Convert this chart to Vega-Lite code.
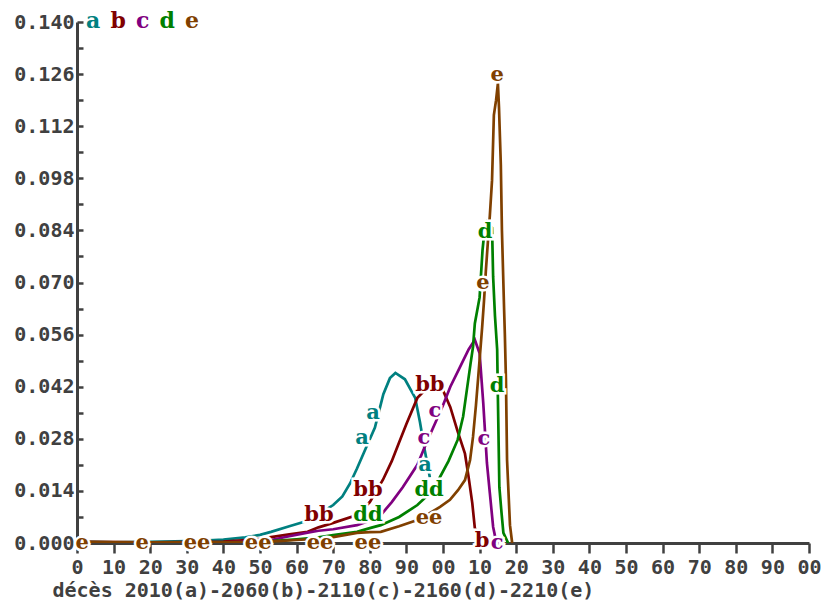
{
  "$schema": "https://vega.github.io/schema/vega-lite/v6.json",
  "width": 732,
  "height": 521,
  "autosize": {"type": "none"},
  "padding": {"left": 77, "top": 22, "right": 13, "bottom": 59},
  "background": "white",
  "config": {"view": {"stroke": null}},
  "datasets": {
    "curves": [
      {"s":"a","age":0,"v":0.0004},{"s":"a","age":10,"v":0.0002},{"s":"a","age":20,"v":0.0003},{"s":"a","age":30,"v":0.0005},{"s":"a","age":36,"v":0.0007},{"s":"a","age":40,"v":0.0009},{"s":"a","age":46,"v":0.0015},{"s":"a","age":50,"v":0.0022},{"s":"a","age":53,"v":0.003},{"s":"a","age":58,"v":0.0045},{"s":"a","age":63,"v":0.006},{"s":"a","age":66,"v":0.0077},{"s":"a","age":70,"v":0.0102},{"s":"a","age":72.5,"v":0.0125},{"s":"a","age":74.6,"v":0.016},{"s":"a","age":76.5,"v":0.02},{"s":"a","age":78.7,"v":0.025},{"s":"a","age":81.4,"v":0.031},{"s":"a","age":83.7,"v":0.04},{"s":"a","age":85.5,"v":0.0443},{"s":"a","age":87,"v":0.0457},{"s":"a","age":89.6,"v":0.044},{"s":"a","age":92.4,"v":0.039},{"s":"a","age":93.7,"v":0.0325},{"s":"a","age":95,"v":0.025},{"s":"a","age":96.4,"v":0.0177},
      {"s":"b","age":0,"v":0.0003},{"s":"b","age":20,"v":0.0002},{"s":"b","age":40,"v":0.0004},{"s":"b","age":46,"v":0.0008},{"s":"b","age":50,"v":0.0011},{"s":"b","age":53,"v":0.0016},{"s":"b","age":58,"v":0.0023},{"s":"b","age":63,"v":0.003},{"s":"b","age":66,"v":0.0042},{"s":"b","age":70,"v":0.0054},{"s":"b","age":76.5,"v":0.0075},{"s":"b","age":80,"v":0.011},{"s":"b","age":83.6,"v":0.017},{"s":"b","age":86,"v":0.022},{"s":"b","age":88,"v":0.027},{"s":"b","age":90,"v":0.032},{"s":"b","age":93,"v":0.039},{"s":"b","age":95.5,"v":0.0415},{"s":"b","age":98,"v":0.0425},{"s":"b","age":100,"v":0.041},{"s":"b","age":102,"v":0.0365},{"s":"b","age":104,"v":0.03},{"s":"b","age":106,"v":0.024},{"s":"b","age":107,"v":0.0177},{"s":"b","age":108,"v":0.0107},{"s":"b","age":108.7,"v":0.004},{"s":"b","age":110,"v":0.0008},{"s":"b","age":112,"v":0},
      {"s":"c","age":0,"v":0.0002},{"s":"c","age":40,"v":0.0002},{"s":"c","age":50,"v":0.0004},{"s":"c","age":53,"v":0.0008},{"s":"c","age":58,"v":0.0018},{"s":"c","age":63,"v":0.0028},{"s":"c","age":66,"v":0.0033},{"s":"c","age":70,"v":0.0037},{"s":"c","age":76.5,"v":0.0048},{"s":"c","age":80,"v":0.006},{"s":"c","age":83,"v":0.0075},{"s":"c","age":86,"v":0.011},{"s":"c","age":89,"v":0.015},{"s":"c","age":93,"v":0.021},{"s":"c","age":95.5,"v":0.027},{"s":"c","age":98,"v":0.0325},{"s":"c","age":100,"v":0.037},{"s":"c","age":102,"v":0.042},{"s":"c","age":104.5,"v":0.047},{"s":"c","age":107,"v":0.052},{"s":"c","age":108.7,"v":0.0546},{"s":"c","age":110,"v":0.051},{"s":"c","age":111,"v":0.0376},{"s":"c","age":112,"v":0.0215},{"s":"c","age":112.8,"v":0.0134},{"s":"c","age":113.7,"v":0.0043},{"s":"c","age":114.5,"v":0.0005},{"s":"c","age":116,"v":0},
      {"s":"d","age":0,"v":0.0002},{"s":"d","age":50,"v":0.0002},{"s":"d","age":53,"v":0.0005},{"s":"d","age":60,"v":0.001},{"s":"d","age":66,"v":0.0015},{"s":"d","age":70,"v":0.0021},{"s":"d","age":76.5,"v":0.003},{"s":"d","age":80,"v":0.004},{"s":"d","age":83,"v":0.0048},{"s":"d","age":88,"v":0.007},{"s":"d","age":93,"v":0.0102},{"s":"d","age":96,"v":0.013},{"s":"d","age":99,"v":0.0174},{"s":"d","age":101.5,"v":0.022},{"s":"d","age":104,"v":0.0277},{"s":"d","age":105.5,"v":0.034},{"s":"d","age":106.5,"v":0.041},{"s":"d","age":107.5,"v":0.048},{"s":"d","age":108.2,"v":0.0527},{"s":"d","age":108.7,"v":0.059},{"s":"d","age":110,"v":0.066},{"s":"d","age":110.8,"v":0.0787},{"s":"d","age":111.5,"v":0.0855},{"s":"d","age":112,"v":0.0863},{"s":"d","age":113.4,"v":0.0847},{"s":"d","age":113.7,"v":0.0715},{"s":"d","age":114.2,"v":0.061},{"s":"d","age":114.8,"v":0.052},{"s":"d","age":115,"v":0.039},{"s":"d","age":115.4,"v":0.015},{"s":"d","age":116,"v":0.008},{"s":"d","age":116.5,"v":0.0027},{"s":"d","age":117.8,"v":0},
      {"s":"e","age":0,"v":0.0003},{"s":"e","age":20,"v":0.0002},{"s":"e","age":40,"v":0.0002},{"s":"e","age":50,"v":0.0003},{"s":"e","age":55,"v":0.0005},{"s":"e","age":60,"v":0.0008},{"s":"e","age":66,"v":0.0012},{"s":"e","age":70,"v":0.0016},{"s":"e","age":76.5,"v":0.0027},{"s":"e","age":80,"v":0.0029},{"s":"e","age":83,"v":0.003},{"s":"e","age":88,"v":0.0045},{"s":"e","age":93,"v":0.0062},{"s":"e","age":96,"v":0.0078},{"s":"e","age":99.2,"v":0.0097},{"s":"e","age":101.9,"v":0.0116},{"s":"e","age":104.1,"v":0.0142},{"s":"e","age":106,"v":0.0169},{"s":"e","age":107.4,"v":0.0223},{"s":"e","age":108.2,"v":0.0285},{"s":"e","age":109,"v":0.037},{"s":"e","age":109.6,"v":0.0443},{"s":"e","age":110.1,"v":0.0505},{"s":"e","age":110.7,"v":0.058},{"s":"e","age":111.2,"v":0.065},{"s":"e","age":111.7,"v":0.073},{"s":"e","age":112.3,"v":0.0814},{"s":"e","age":112.8,"v":0.088},{"s":"e","age":113.4,"v":0.0975},{"s":"e","age":113.7,"v":0.108},{"s":"e","age":113.9,"v":0.115},{"s":"e","age":114.5,"v":0.119},{"s":"e","age":115,"v":0.1235},{"s":"e","age":115.3,"v":0.117},{"s":"e","age":115.8,"v":0.1016},{"s":"e","age":116.1,"v":0.084},{"s":"e","age":116.7,"v":0.0626},{"s":"e","age":116.9,"v":0.056},{"s":"e","age":117.2,"v":0.0438},{"s":"e","age":117.5,"v":0.0223},{"s":"e","age":118.3,"v":0.0048},{"s":"e","age":118.9,"v":0}
    ],
    "labels": [
      {"s":"a","age":77.9,"v":0.0282,"t":"a"},{"s":"a","age":80.9,"v":0.0349,"t":"a"},{"s":"a","age":95.1,"v":0.021,"t":"a"},
      {"s":"b","age":66.1,"v":0.0075,"t":"bb"},{"s":"b","age":79.5,"v":0.0142,"t":"bb"},{"s":"b","age":96.4,"v":0.0425,"t":"bb"},{"s":"b","age":110.7,"v":0.0005,"t":"b"},
      {"s":"c","age":97.8,"v":0.0355,"t":"c"},{"s":"c","age":94.8,"v":0.0282,"t":"c"},{"s":"c","age":111.2,"v":0.0279,"t":"c"},{"s":"c","age":114.8,"v":0.0,"t":"c"},
      {"s":"d","age":79.5,"v":0.0075,"t":"dd"},{"s":"d","age":96.2,"v":0.0142,"t":"dd"},{"s":"d","age":111.5,"v":0.0836,"t":"d"},{"s":"d","age":114.8,"v":0.0422,"t":"d"},
      {"s":"e","age":1.4,"v":0,"t":"e"},{"s":"e","age":17.8,"v":0,"t":"e"},{"s":"e","age":32.8,"v":0,"t":"ee"},{"s":"e","age":49.5,"v":0,"t":"ee"},{"s":"e","age":66.4,"v":0,"t":"ee"},{"s":"e","age":79.5,"v":0,"t":"ee"},{"s":"e","age":96.2,"v":0.0067,"t":"ee"},{"s":"e","age":110.9,"v":0.0699,"t":"e"},{"s":"e","age":114.8,"v":0.1258,"t":"e"}
    ]
  },
  "encoding": {
    "x": {
      "field": "age", "type": "quantitative",
      "scale": {"domain": [0, 200], "nice": false, "zero": false},
      "axis": {
        "values": [0,10,20,30,40,50,60,70,80,90,100,110,120,130,140,150,160,170,180,190,200],
        "labelExpr": "datum.value == 0 ? '0' : format(datum.value % 100, '02d')",
        "grid": false,
        "domainColor": "#404040", "domainWidth": 3,
        "tickColor": "#404040", "tickWidth": 2.5, "tickSize": 10,
        "labelFont": "DejaVu Sans Mono", "labelFontWeight": "bold", "labelFontSize": 20, "labelColor": "#404040",
        "labelPadding": 4, "labelOverlap": false, "labelFlush": false,
        "title": "décès 2010(a)-2060(b)-2110(c)-2160(d)-2210(e)",
        "titleFont": "DejaVu Sans Mono", "titleFontWeight": "bold", "titleFontSize": 20, "titleColor": "#404040",
        "titleAnchor": "start", "titleAlign": "left", "titleX": -25, "titleY": 53, "titleBaseline": "alphabetic"
      }
    },
    "y": {
      "field": "v", "type": "quantitative",
      "scale": {"domain": [0, 0.14], "nice": false},
      "axis": {
        "values": [0,0.007,0.014,0.021,0.028,0.035,0.042,0.049,0.056,0.063,0.07,0.077,0.084,0.091,0.098,0.105,0.112,0.119,0.126,0.133,0.14],
        "labelExpr": "round(datum.value * 1000) % 14 == 0 ? format(datum.value, '.3f') : ''",
        "grid": false,
        "domainColor": "#404040", "domainWidth": 3,
        "tickColor": "#404040", "tickWidth": 2.5, "tickSize": -6,
        "labelFont": "DejaVu Sans Mono", "labelFontWeight": "bold", "labelFontSize": 20, "labelColor": "#404040",
        "labelPadding": 9, "labelOverlap": false, "labelFlush": false,
        "title": null
      }
    }
  },
  "layer": [
    {
      "data": {"name": "curves"},
      "mark": {"type": "line", "strokeWidth": 2.7, "clip": true},
      "encoding": {
        "color": {
          "field": "s", "type": "nominal",
          "scale": {"domain": ["a","b","c","d","e"], "range": ["#008080","#800000","#800080","#008000","#804000"]},
          "legend": {
            "orient": "none", "legendX": 7, "legendY": -12, "direction": "horizontal",
            "title": null, "symbolType": "circle", "symbolSize": 1, "symbolOpacity": 0, "symbolStrokeWidth": 0,
            "labelOffset": -20, "columnPadding": 7.5, "padding": 0, "gridAlign": "none",
            "labelFont": "DejaVu Serif", "labelFontWeight": "bold", "labelFontSize": 22,
            "encode": {"labels": {"update": {"fill": {"scale": "color", "field": "value"}}}}
          }
        }
      }
    },
    {
      "data": {"name": "labels"},
      "mark": {"type": "text", "font": "DejaVu Serif", "fontWeight": "bold", "fontSize": 21, "fill": "white", "stroke": "white", "strokeWidth": 5, "baseline": "middle", "align": "center"},
      "encoding": {
        "text": {"field": "t"}
      }
    },
    {
      "data": {"name": "labels"},
      "mark": {"type": "text", "font": "DejaVu Serif", "fontWeight": "bold", "fontSize": 21, "baseline": "middle", "align": "center"},
      "encoding": {
        "text": {"field": "t"},
        "color": {"field": "s", "type": "nominal", "legend": null}
      }
    }
  ]
}
